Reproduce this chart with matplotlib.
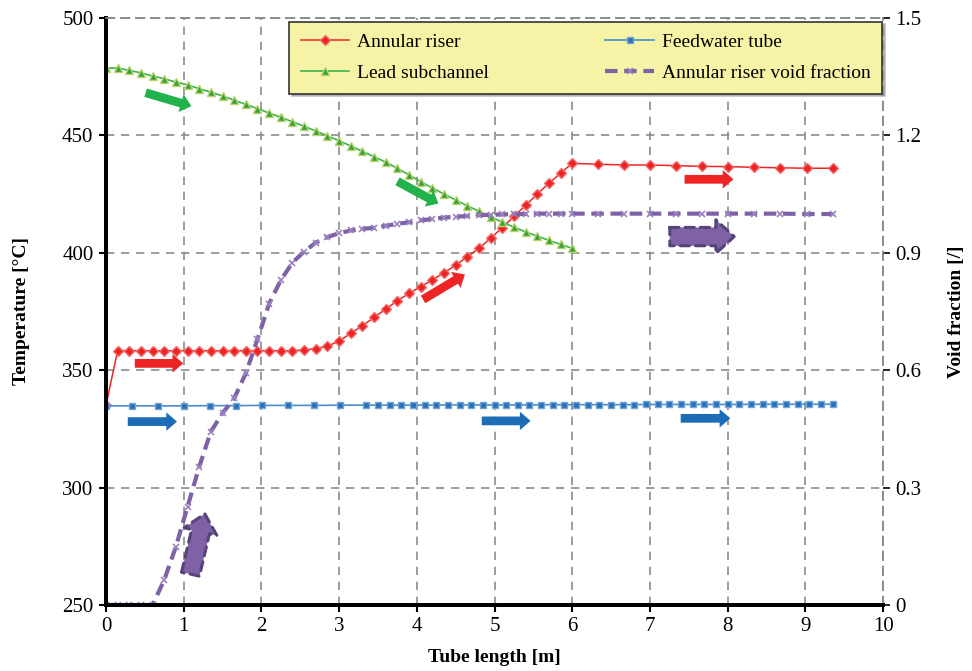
import matplotlib
matplotlib.use('Agg')
import matplotlib.pyplot as plt
from matplotlib.patches import FancyArrowPatch

plt.rcParams['font.family'] = 'Liberation Serif'

# --- datos ---
riser_x = [0, 0.15, 0.3, 0.45, 0.6, 0.75, 0.9, 1.05, 1.2, 1.35, 1.5, 1.65, 1.8, 1.95, 2.1, 2.25, 2.4,
           2.55, 2.7, 2.85, 3.0, 3.15, 3.3, 3.45, 3.6, 3.75, 3.9, 4.05, 4.2, 4.35, 4.5, 4.65, 4.8,
           4.95, 5.1, 5.25, 5.4, 5.55, 5.7, 5.85, 6.0,
           6.335, 6.67, 7.005, 7.34, 7.675, 8.01, 8.345, 8.68, 9.015, 9.35]
riser_T = [335.0, 358.3, 358.3, 358.3, 358.3, 358.3, 358.3, 358.3, 358.3, 358.3, 358.3, 358.3, 358.3,
           358.3, 358.3, 358.3, 358.3,
           358.6, 359.2, 360.2, 362.4, 365.7, 368.9, 372.5, 376.0, 379.6, 382.7, 385.6, 388.4, 391.5,
           394.7, 398.3, 401.9, 406.2, 410.7, 415.5, 420.2, 425.0, 429.6, 433.9, 438.1,
           437.7, 437.4, 437.4, 437.1, 436.8, 436.7, 436.4, 436.2, 436.0, 436.0]

feed_x = [0, 0.335, 0.67, 1.005, 1.34, 1.675, 2.01, 2.345, 2.68, 3.015, 3.35,
          3.5, 3.65, 3.8, 3.95, 4.1, 4.25, 4.4, 4.55, 4.7, 4.85, 5.0, 5.15, 5.3, 5.45, 5.6, 5.75,
          5.9, 6.05, 6.2, 6.35, 6.5, 6.65, 6.8, 6.95, 7.1, 7.25, 7.4, 7.55, 7.7, 7.85, 8.0, 8.15,
          8.3, 8.45, 8.6, 8.75, 8.9, 9.05, 9.2, 9.35]
feed_T = [334.8, 334.8, 334.8, 334.8, 334.9, 334.9, 335.0, 335.0, 335.0, 335.1, 335.1,
          335.1, 335.1, 335.1, 335.1, 335.1, 335.1, 335.2, 335.2, 335.2, 335.2, 335.2, 335.2,
          335.2, 335.2, 335.3, 335.3, 335.3, 335.3, 335.3, 335.3, 335.3, 335.3, 335.3, 335.4,
          335.4, 335.4, 335.4, 335.4, 335.4, 335.4, 335.4, 335.4, 335.5, 335.5, 335.5, 335.5,
          335.5, 335.5, 335.5, 335.5]

lead_x = [0, 0.15, 0.3, 0.45, 0.6, 0.75, 0.9, 1.05, 1.2, 1.35, 1.5, 1.65, 1.8, 1.95, 2.1, 2.25, 2.4,
          2.55, 2.7, 2.85, 3.0, 3.15, 3.3, 3.45, 3.6, 3.75, 3.9, 4.05, 4.2, 4.35, 4.5, 4.65, 4.8,
          4.95, 5.1, 5.25, 5.4, 5.55, 5.7, 5.85, 6.0]
lead_T = [478.6, 478.7, 477.7, 476.6, 475.3, 474.1, 472.7, 471.5, 469.9, 468.4, 466.8, 465.0, 463.2,
          461.4, 459.5, 457.7, 455.8, 453.9, 451.9, 449.8, 447.7, 445.5, 443.2, 440.9, 438.6,
          436.0, 433.2, 430.3, 427.6, 425.0, 422.5, 420.0, 417.7, 415.3, 413.1, 410.9, 408.9,
          407.1, 405.3, 403.6, 401.9]

void_x = riser_x
void_a = [0.0, 0.0, 0.0, 0.0, 0.0, 0.064, 0.149, 0.251, 0.353, 0.443, 0.490, 0.528, 0.592, 0.679,
          0.770, 0.830, 0.875, 0.903, 0.926, 0.940, 0.950, 0.957, 0.961, 0.964, 0.969, 0.974,
          0.978, 0.983, 0.986, 0.990, 0.992, 0.994, 0.996, 0.997, 0.998, 0.999, 0.999, 1.0, 1.0,
          1.0, 1.0,
          1.0, 1.0, 1.0, 1.0, 1.0, 1.0, 1.0, 1.0, 0.999, 0.999]

x_ticks = [0, 1, 2, 3, 4, 5, 6, 7, 8, 9, 10]
T_ticks = [250, 300, 350, 400, 450, 500]
void_ticks = [0, 0.3, 0.6, 0.9, 1.2, 1.5]
void_labels = ['0', '0.3', '0.6', '0.9', '1.2', '1.5']

fig = plt.figure(figsize=(9.72, 6.71), dpi=100)
ax = fig.add_axes([0.109, 0.0984, 0.7995, 0.8748])
ax2 = ax.twinx()

rojo = '#EE2424'
azul = '#2B6FB4'
verde = '#3CB54A'
morado = '#7F62A6'

l1, = ax.plot(riser_x, riser_T, color=rojo, lw=1.1, marker='D', ms=5,
              mfc=rojo, mec='#F07070', label='Annular riser')
l2, = ax.plot(feed_x, feed_T, color='#4A8CCB', lw=1.2, marker='s', ms=5,
              mfc=azul, mec='#6FA6DA', label='Feedwater tube')
l3, = ax.plot(lead_x, lead_T, color=verde, lw=1.2, marker='^', ms=6,
              mfc='#3A9F3E', mec='#B8D46A', label='Lead subchannel')
l4, = ax2.plot(void_x, void_a, color=morado, lw=3, ls=(0, (3.0, 1.6)), marker='x', ms=5,
               mew=1.2, mec='#9A82C0', label='Annular riser void fraction')

ax.set_xlim(0, 10)
ax.set_ylim(250, 500)
ax2.set_ylim(0, 1.5)
ax.set_xticks(x_ticks)
ax.set_yticks(T_ticks)
ax2.set_yticks(void_ticks)
ax2.set_yticklabels(void_labels)

ax.grid(True, color='#8C8C8C', ls=(0, (5, 4)), lw=1.2)
for a in (ax, ax2):
    a.spines['left'].set_linewidth(2.8)
    a.spines['bottom'].set_linewidth(2.8)
    a.spines['top'].set_color('#8C8C8C')
    a.spines['top'].set_linestyle((0, (5, 4)))
    a.spines['top'].set_linewidth(1.2)
    a.spines['right'].set_color('#8C8C8C')
    a.spines['right'].set_linestyle((0, (5, 4)))
    a.spines['right'].set_linewidth(1.2)
ax.tick_params(axis='both', labelsize=15, length=5, width=1.5, direction='out', pad=4)
ax2.tick_params(axis='y', labelsize=15, length=5, width=1.2, direction='out', pad=4)

ax.set_xlabel('Tube length [m]', fontsize=14, fontweight='bold', labelpad=9)
ax.set_ylabel('Temperature [°C]', fontsize=14, fontweight='bold', labelpad=23)
ax2.set_ylabel('Void fraction [/]', fontsize=14, fontweight='bold', labelpad=19)

# flechas decorativas (coordenadas de temperatura)
flechas = [
    ((0.476, 468.5), (1.133, 462.1), '#22B24C'),
    ((3.72, 431.0), (4.31, 420.4), '#22B24C'),
    ((0.335, 352.9), (1.03, 352.9), rojo),
    ((4.05, 379.5), (4.65, 391.4), rojo),
    ((7.41, 431.3), (8.11, 431.3), rojo),
    ((0.245, 328.1), (0.95, 328.1), '#1C6DB5'),
    ((4.80, 328.4), (5.50, 328.4), '#1C6DB5'),
    ((7.36, 329.5), (8.07, 329.5), '#1C6DB5'),
]
for (x0, y0), (x1, y1), c in flechas:
    ax.add_patch(FancyArrowPatch((x0, y0), (x1, y1),
                 arrowstyle='simple,head_length=0.55,head_width=0.95,tail_width=0.45',
                 mutation_scale=14, color=c, lw=0, zorder=5))

for (x0, y0), (x1, y1) in [((7.22, 406.9), (8.12, 406.9)), ((1.08, 262.0), (1.28, 290.0))]:
    ax.add_patch(FancyArrowPatch((x0, y0), (x1, y1),
                 arrowstyle='simple,head_length=0.6,head_width=1.1,tail_width=0.6',
                 mutation_scale=22, fc=morado, ec='#564377', lw=2.2, ls=(0, (3, 2)), zorder=5))

leg = ax2.legend(handles=[l1, l3, l2, l4], ncol=2, loc='upper right',
                 bbox_to_anchor=(0.999, 0.994), borderaxespad=0, fontsize=14, frameon=True,
                 fancybox=False, shadow={'color': '#9A9A9A', 'alpha': 0.6}, columnspacing=6.0,
                 handlelength=2.5, borderpad=0.6, labelspacing=0.7, handletextpad=0.4)
leg.get_frame().set_facecolor('#F6F2A6')
leg.get_frame().set_edgecolor('#333333')
leg.get_frame().set_linewidth(1.2)
leg.get_frame().set_alpha(1)

fig.savefig('out.png', dpi=100)
plt.close(fig)
